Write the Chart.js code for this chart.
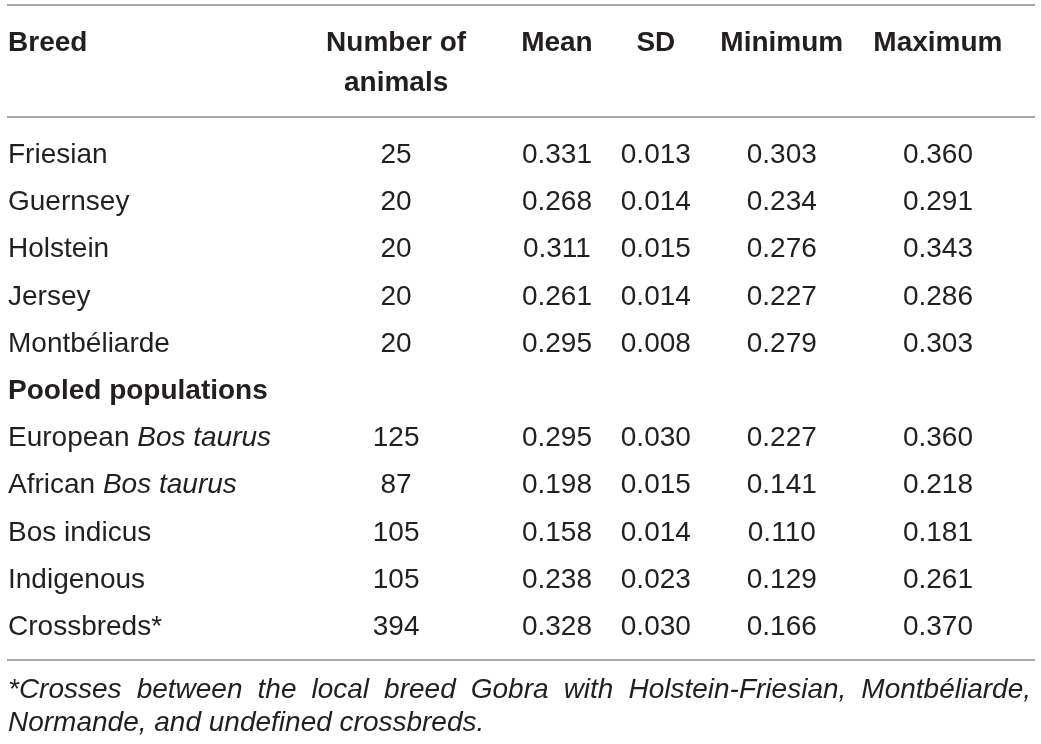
<!DOCTYPE html>
<html>
<head>
<meta charset="utf-8">
<script src="https://cdn.jsdelivr.net/npm/chart.js@4.4.1/dist/chart.umd.min.js"></script>
<style>
  html, body { margin: 0; background: #fff; }
  #wrap { width: 1041px; height: 744px; position: relative; }
</style>
</head>
<body>
<div id="wrap"><canvas id="breedTable"></canvas></div>
<script>
// table content
const columns = ["Breed", "Number of animals", "Mean", "SD", "Minimum", "Maximum"];
const breeds = ["Friesian", "Guernsey", "Holstein", "Jersey", "Montbéliarde", "Pooled populations",
  "European Bos taurus", "African Bos taurus", "Bos indicus", "Indigenous", "Crossbreds*"];
const sectionRows = ["Pooled populations"];
const italicTerms = ["Bos taurus"];
const animals = [25, 20, 20, 20, 20, null, 125, 87, 105, 105, 394];
const means = [0.331, 0.268, 0.311, 0.261, 0.295, null, 0.295, 0.198, 0.158, 0.238, 0.328];
const sds = [0.013, 0.014, 0.015, 0.014, 0.008, null, 0.030, 0.015, 0.014, 0.023, 0.030];
const minimums = [0.303, 0.234, 0.276, 0.227, 0.279, null, 0.227, 0.141, 0.110, 0.129, 0.166];
const maximums = [0.360, 0.291, 0.343, 0.286, 0.303, null, 0.360, 0.218, 0.181, 0.261, 0.370];
const footnoteLines = [
  "*Crosses between the local breed Gobra with Holstein-Friesian, Montbéliarde,",
  "Normande, and undefined crossbreds."
];

// layout / style
const FONT = '"Liberation Sans", Arial, Helvetica, sans-serif';
const TEXT = "#231f20";
const RULE = "#8c8c8c";
const colAnchor = [0.0077, 0.3805, 0.535, 0.630, 0.751, 0.901];
const headerLines = [["Breed"], ["Number of", "animals"], ["Mean"], ["SD"], ["Minimum"], ["Maximum"]];
const headerBaselines = [51, 91];
const rules = [5, 117, 660];
const footBaselines = [698, 731];
const leftEdge = 8, rightEdge = 1031;

const columnValues = [animals, means, sds, minimums, maximums];
const fmt = [v => String(v), v => v.toFixed(3), v => v.toFixed(3), v => v.toFixed(3), v => v.toFixed(3)];

const datasets = [{
  label: columns[0],
  data: breeds.map(b => ({ x: colAnchor[0], y: b, text: b })),
  pointRadius: 0
}].concat(columnValues.map((vals, c) => ({
  label: columns[c + 1],
  data: breeds.map((b, i) => vals[i] == null ? null : { x: colAnchor[c + 1], y: b, text: fmt[c](vals[i]) })
    .filter(Boolean),
  pointRadius: 0
})));

function drawBreed(ctx, label, x, y) {
  const bold = sectionRows.includes(label);
  const term = italicTerms.find(t => label.includes(t));
  ctx.textAlign = "left";
  if (bold) {
    ctx.font = "bold 28px " + FONT;
    ctx.fillText(label, x, y);
    return;
  }
  if (!term) {
    ctx.font = "28px " + FONT;
    ctx.fillText(label, x, y);
    return;
  }
  const at = label.indexOf(term);
  const parts = [[label.slice(0, at), ""], [term, "italic "], [label.slice(at + term.length), ""]];
  let cx = x;
  parts.forEach(([s, style]) => {
    if (!s) return;
    ctx.font = style + "28px " + FONT;
    ctx.fillText(s, cx, y);
    cx += ctx.measureText(s).width;
  });
}

const tablePlugin = {
  id: "tableText",
  afterDatasetsDraw(chart) {
    const ctx = chart.ctx;
    const xs = chart.scales.x;
    ctx.save();
    ctx.fillStyle = TEXT;
    ctx.textBaseline = "alphabetic";

    // rules
    ctx.strokeStyle = RULE;
    ctx.lineWidth = 1.5;
    rules.forEach(y => {
      ctx.beginPath();
      ctx.moveTo(7, y);
      ctx.lineTo(1035, y);
      ctx.stroke();
    });

    // header
    ctx.font = "bold 28px " + FONT;
    headerLines.forEach((lines, c) => {
      const x = xs.getPixelForValue(colAnchor[c]);
      ctx.textAlign = c === 0 ? "left" : "center";
      lines.forEach((s, k) => ctx.fillText(s, x, headerBaselines[k]));
    });

    // cells
    chart.data.datasets.forEach((ds, d) => {
      const meta = chart.getDatasetMeta(d);
      meta.data.forEach((pt, i) => {
        const raw = ds.data[i];
        const y = pt.y + 10;
        if (d === 0) {
          drawBreed(ctx, raw.text, pt.x, y);
        } else {
          ctx.font = "28px " + FONT;
          ctx.textAlign = "center";
          ctx.fillText(raw.text, pt.x, y);
        }
      });
    });

    // footnote, first line justified
    ctx.font = "italic 28px " + FONT;
    ctx.textAlign = "left";
    footnoteLines.forEach((line, k) => {
      const y = footBaselines[k];
      if (k === footnoteLines.length - 1) {
        ctx.fillText(line, leftEdge, y);
        return;
      }
      const words = line.split(" ");
      const widths = words.map(w => ctx.measureText(w).width);
      const total = widths.reduce((a, b) => a + b, 0);
      const gap = (rightEdge - leftEdge - total) / (words.length - 1);
      let cx = leftEdge;
      words.forEach((w, j) => {
        ctx.fillText(w, cx, y);
        cx += widths[j] + gap;
      });
    });
    ctx.restore();
  }
};

new Chart(document.getElementById("breedTable"), {
  type: "scatter",
  data: { datasets },
  options: {
    responsive: true,
    maintainAspectRatio: false,
    animation: false,
    events: [],
    layout: { padding: { top: 153, bottom: 119, left: 0, right: 0 } },
    scales: {
      x: { type: "linear", min: 0, max: 1, display: false },
      y: { type: "category", labels: breeds, offset: false, display: false }
    },
    plugins: { legend: { display: false }, tooltip: { enabled: false } }
  },
  plugins: [tablePlugin]
});
</script>
</body>
</html>
